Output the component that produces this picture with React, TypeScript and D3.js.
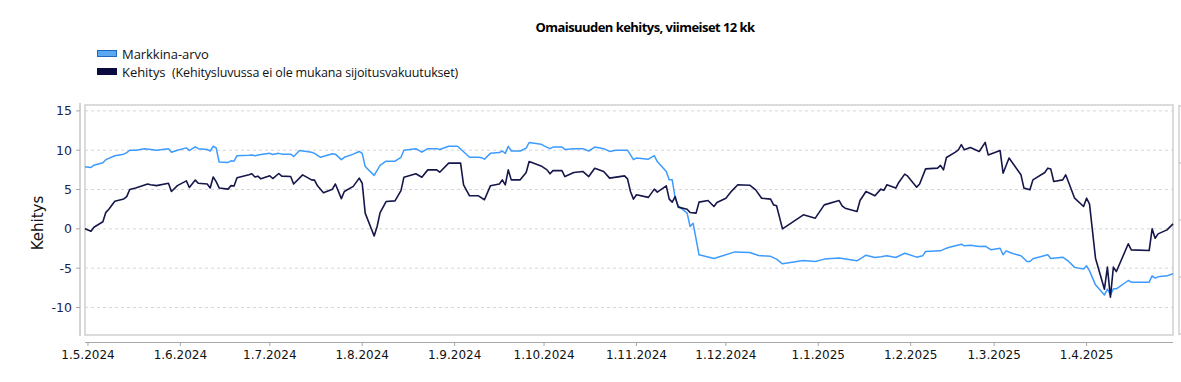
import React from "react";
import * as d3 from "d3";

const title = "Omaisuuden kehitys, viimeiset 12 kk";
const legendLabels = ["Markkina-arvo", "Kehitys"];
const legendNote = "(Kehitysluvussa ei ole mukana sijoitusvakuutukset)";
const yAxisLabel = "Kehitys";
const yTicks = [15, 10, 5, 0, -5, -10];
const xTickDates = ["2024-05-01","2024-06-01","2024-07-01","2024-08-01","2024-09-01","2024-10-01","2024-11-01","2024-12-01","2025-01-01","2025-02-01","2025-03-01","2025-04-01"];
const xDomain = ["2024-04-30", "2025-04-30"];
const yDomain = [-13.5, 15.75];

const markkinaArvo: [string, number][] = [
["2024-04-30",7.9],["2024-05-02",7.8],["2024-05-03",8.1],["2024-05-06",8.4],["2024-05-07",8.8],["2024-05-10",9.3],["2024-05-13",9.5],["2024-05-14",9.7],["2024-05-15",10.0],["2024-05-17",10.0],["2024-05-20",10.2],["2024-05-22",10.1],["2024-05-24",10.0],["2024-05-28",10.2],["2024-05-29",9.75],["2024-05-31",10.0],
["2024-06-03",10.3],["2024-06-04",9.96],["2024-06-05",10.2],["2024-06-06",10.43],["2024-06-07",10.2],["2024-06-10",10.1],["2024-06-11",9.9],["2024-06-12",10.5],["2024-06-13",10.3],["2024-06-14",8.5],["2024-06-17",8.45],["2024-06-18",8.65],["2024-06-19",8.6],["2024-06-20",9.3],["2024-06-24",9.37],["2024-06-25",9.4],["2024-06-26",9.3],["2024-06-28",9.45],
["2024-07-01",9.6],["2024-07-02",9.45],["2024-07-04",9.6],["2024-07-05",9.5],["2024-07-08",9.5],["2024-07-09",9.2],["2024-07-11",9.96],["2024-07-15",9.75],["2024-07-16",9.6],["2024-07-18",9.1],["2024-07-22",9.54],["2024-07-23",9.5],["2024-07-25",8.8],["2024-07-26",9.1],["2024-07-29",9.5],["2024-07-31",9.84],
["2024-08-01",9.6],["2024-08-02",7.93],["2024-08-05",6.8],["2024-08-07",8.06],["2024-08-09",8.6],["2024-08-12",8.6],["2024-08-14",9.1],["2024-08-15",10.0],["2024-08-19",10.2],["2024-08-21",9.75],["2024-08-23",10.2],["2024-08-26",10.2],["2024-08-27",10.1],["2024-08-30",10.5],
["2024-09-02",10.5],["2024-09-04",9.8],["2024-09-06",9.1],["2024-09-09",9.1],["2024-09-10",9.05],["2024-09-11",8.86],["2024-09-13",9.6],["2024-09-16",9.7],["2024-09-17",9.9],["2024-09-18",9.6],["2024-09-19",10.5],["2024-09-20",9.9],["2024-09-23",9.9],["2024-09-25",10.27],["2024-09-26",10.98],["2024-09-30",10.77],
["2024-10-01",10.56],["2024-10-03",10.2],["2024-10-04",10.4],["2024-10-07",10.4],["2024-10-08",10.1],["2024-10-11",10.2],["2024-10-14",10.2],["2024-10-16",9.9],["2024-10-18",10.4],["2024-10-21",10.2],["2024-10-23",9.85],["2024-10-25",10.0],["2024-10-29",10.0],["2024-10-31",8.8],
["2024-11-01",9.0],["2024-11-05",8.86],["2024-11-07",9.3],["2024-11-08",8.56],["2024-11-11",7.3],["2024-11-12",6.23],["2024-11-13",6.23],["2024-11-14",3.9],["2024-11-15",2.93],["2024-11-18",2.0],["2024-11-19",0.3],["2024-11-20",0.72],["2024-11-22",-3.3],["2024-11-27",-3.77],
["2024-12-04",-2.93],["2024-12-09",-3.0],["2024-12-12",-3.4],["2024-12-16",-3.5],["2024-12-18",-3.85],["2024-12-20",-4.45],["2024-12-27",-4.03],["2024-12-31",-4.15],
["2025-01-03",-3.85],["2025-01-08",-3.7],["2025-01-14",-4.07],["2025-01-17",-3.35],["2025-01-20",-3.65],["2025-01-22",-3.55],["2025-01-24",-3.43],["2025-01-27",-3.64],["2025-01-30",-3.1],
["2025-02-03",-3.6],["2025-02-05",-3.43],["2025-02-06",-2.88],["2025-02-11",-2.8],["2025-02-13",-2.46],["2025-02-14",-2.33],["2025-02-18",-1.95],["2025-02-19",-2.16],["2025-02-21",-2.08],["2025-02-24",-2.25],["2025-02-26",-2.2],["2025-02-28",-2.67],
["2025-03-03",-2.46],["2025-03-04",-3.3],["2025-03-05",-2.8],["2025-03-07",-3.1],["2025-03-10",-3.43],["2025-03-12",-4.15],["2025-03-13",-4.15],["2025-03-14",-3.8],["2025-03-19",-3.3],["2025-03-20",-3.77],["2025-03-24",-3.6],["2025-03-26",-4.15],["2025-03-28",-4.9],["2025-03-31",-5.1],
["2025-04-01",-4.7],["2025-04-02",-5.34],["2025-04-04",-7.12],["2025-04-07",-8.4],["2025-04-08",-7.67],["2025-04-09",-8.4],["2025-04-10",-7.63],["2025-04-11",-7.63],["2025-04-15",-6.57],["2025-04-16",-6.78],["2025-04-22",-6.78],["2025-04-23",-5.98],["2025-04-24",-6.27],["2025-04-25",-6.1],["2025-04-28",-5.98],["2025-04-30",-5.72],
];

const kehitys: [string, number][] = [
["2024-04-30",0.0],["2024-05-02",-0.3],["2024-05-03",0.2],["2024-05-06",0.9],["2024-05-07",2.1],["2024-05-08",2.5],["2024-05-10",3.5],["2024-05-13",3.8],["2024-05-14",4.1],["2024-05-15",5.0],["2024-05-17",5.2],["2024-05-21",5.7],["2024-05-22",5.6],["2024-05-24",5.5],["2024-05-28",5.8],["2024-05-29",4.75],["2024-05-31",5.5],
["2024-06-03",6.1],["2024-06-04",5.26],["2024-06-06",6.2],["2024-06-07",5.8],["2024-06-10",5.7],["2024-06-11",5.2],["2024-06-12",6.6],["2024-06-13",6.0],["2024-06-14",5.2],["2024-06-17",5.05],["2024-06-18",5.5],["2024-06-19",5.45],["2024-06-20",6.5],["2024-06-24",6.87],["2024-06-25",7.0],["2024-06-26",6.6],["2024-06-27",6.7],["2024-06-28",6.36],
["2024-07-01",6.74],["2024-07-02",6.4],["2024-07-04",7.04],["2024-07-05",6.7],["2024-07-08",6.65],["2024-07-09",5.7],["2024-07-12",6.87],["2024-07-15",6.23],["2024-07-16",6.2],["2024-07-17",5.47],["2024-07-19",4.6],["2024-07-22",5.05],["2024-07-23",5.7],["2024-07-25",3.85],["2024-07-26",4.75],["2024-07-29",5.4],["2024-07-31",6.45],
["2024-08-01",5.8],["2024-08-02",2.0],["2024-08-05",-0.9],["2024-08-06",0.3],["2024-08-07",2.07],["2024-08-09",3.47],["2024-08-12",3.56],["2024-08-14",4.87],["2024-08-15",6.57],["2024-08-19",7.0],["2024-08-21",6.57],["2024-08-23",7.5],["2024-08-26",7.5],["2024-08-27",7.2],["2024-08-30",8.36],
["2024-09-03",8.36],["2024-09-04",5.6],["2024-09-06",4.2],["2024-09-09",4.2],["2024-09-11",3.7],["2024-09-13",5.47],["2024-09-16",5.7],["2024-09-17",6.23],["2024-09-18",5.6],["2024-09-19",7.5],["2024-09-20",6.23],["2024-09-23",6.23],["2024-09-25",7.16],["2024-09-26",8.56],["2024-09-30",8.0],
["2024-10-02",7.5],["2024-10-03",7.0],["2024-10-04",7.4],["2024-10-07",7.4],["2024-10-08",6.65],["2024-10-11",7.16],["2024-10-14",7.3],["2024-10-16",6.65],["2024-10-18",7.7],["2024-10-21",7.3],["2024-10-23",6.45],["2024-10-28",6.74],["2024-10-29",6.36],["2024-10-30",4.75],["2024-10-31",3.78],
["2024-11-01",4.33],["2024-11-05",4.0],["2024-11-07",5.05],["2024-11-08",4.67],["2024-11-11",5.47],["2024-11-12",3.78],["2024-11-13",3.4],["2024-11-14",4.1],["2024-11-15",2.76],["2024-11-18",2.5],["2024-11-19",2.07],["2024-11-21",2.0],["2024-11-22",3.4],["2024-11-25",3.6],["2024-11-27",2.84],["2024-11-28",3.35],
["2024-12-01",3.9],["2024-12-03",4.83],["2024-12-05",5.6],["2024-12-09",5.55],["2024-12-11",4.96],["2024-12-13",3.9],["2024-12-16",3.78],["2024-12-17",3.05],["2024-12-18",2.93],["2024-12-20",0.0],["2024-12-27",1.78],["2024-12-31",1.36],
["2025-01-03",3.05],["2025-01-08",3.6],["2025-01-09",2.93],["2025-01-10",2.63],["2025-01-14",2.2],["2025-01-15",3.6],["2025-01-17",4.75],["2025-01-20",4.2],["2025-01-22",5.05],["2025-01-23",4.9],["2025-01-24",5.6],["2025-01-27",5.18],["2025-01-28",5.9],["2025-01-30",6.96],["2025-01-31",6.7],
["2025-02-03",5.3],["2025-02-04",5.7],["2025-02-06",7.63],["2025-02-10",7.72],["2025-02-11",8.06],["2025-02-12",7.5],["2025-02-13",9.07],["2025-02-16",9.75],["2025-02-17",10.05],["2025-02-18",10.7],["2025-02-19",10.05],["2025-02-21",10.35],["2025-02-24",9.84],["2025-02-26",11.0],["2025-02-27",9.4],
["2025-03-03",9.96],["2025-03-04",7.08],["2025-03-06",9.0],["2025-03-10",6.87],["2025-03-11",5.18],["2025-03-13",4.96],["2025-03-14",6.23],["2025-03-18",7.16],["2025-03-19",7.72],["2025-03-20",7.6],["2025-03-21",6.02],["2025-03-24",6.23],["2025-03-25",6.87],["2025-03-26",5.9],["2025-03-28",3.9],["2025-03-31",2.84],
["2025-04-01",3.9],["2025-04-02",3.14],["2025-04-04",-3.73],["2025-04-07",-7.67],["2025-04-08",-4.87],["2025-04-09",-8.7],["2025-04-10",-4.87],["2025-04-11",-5.43],["2025-04-15",-1.9],["2025-04-16",-2.67],["2025-04-22",-2.76],["2025-04-23",0.0],["2025-04-24",-1.19],["2025-04-25",-0.64],["2025-04-28",-0.13],["2025-04-30",0.64],
];

const W = 1181, H = 382;
const plot = { left: 85, right: 1173, top: 105, bottom: 335 };
const BLUE = "#3d9bff";
const NAVY = "#15164a";
const TICK_TEXT = "#1c2150";

const parse = d3.timeParse("%Y-%m-%d");
const fmt = (d: Date) => `${d.getDate()}.${d.getMonth() + 1}.${d.getFullYear()}`;

export default function App() {
  const x = d3.scaleTime().domain(xDomain.map((s) => parse(s) as Date)).range([plot.left, plot.right]);
  const y = d3.scaleLinear().domain(yDomain).range([plot.bottom, plot.top]);
  const line = d3.line<[string, number]>()
    .x((d) => x(parse(d[0]) as Date))
    .y((d) => y(d[1]));
  const rightScale = d3.scaleLinear().domain([0, 4]).range([plot.bottom - 1, plot.top + 1]);
  const axisFont = "DejaVu Sans, sans-serif";
  const labelFont = "'Open Sans', 'Noto Sans', sans-serif";

  return (
    <svg width={W} height={H} style={{ position: "absolute", left: 0, top: 0, background: "#fff" }}>
      <text x={645} y={32} textAnchor="middle" fontFamily={labelFont} fontWeight={700} fontSize={13} letterSpacing={-0.55} fill="#000">{title}</text>

      {/* legend */}
      <rect x={97.5} y={50.5} width={19} height={6} fill="#5aa8f0" stroke="#1f66c2" strokeWidth={1} />
      <text x={122} y={59} fontFamily={labelFont} fontSize={13} fill="#111" letterSpacing={-0.05}>{legendLabels[0]}</text>
      <rect x={97} y={68} width={20} height={7} fill="#0b0b3f" />
      <text x={122} y={77} fontFamily={labelFont} fontSize={13} fill="#111" letterSpacing={-0.05}>{legendLabels[1]}</text>
      <text x={172} y={77} fontFamily={labelFont} fontSize={12.5} fill="#111" letterSpacing={-0.15}>{legendNote}</text>

      {/* grid */}
      {yTicks.map((t) => (
        <line key={"g" + t} x1={plot.left} x2={plot.right} y1={y(t)} y2={y(t)} stroke="#d6d6d6" strokeDasharray="3,3" strokeWidth={1} />
      ))}

      {/* plot frame */}
      <rect x={plot.left} y={plot.top} width={plot.right - plot.left} height={plot.bottom - plot.top} fill="none" stroke="#cfcfcf" strokeWidth={1.5} />

      {/* y axis */}
      <line x1={80} x2={80} y1={plot.top - 2} y2={plot.bottom + 1} stroke="#a8a8a8" strokeWidth={1} />
      {yTicks.map((t) => (
        <g key={"y" + t}>
          <line x1={76} x2={80} y1={y(t)} y2={y(t)} stroke="#a8a8a8" />
          <text x={72} y={y(t) + 4.5} textAnchor="end" fontFamily={axisFont} fontSize={12.5} fill={TICK_TEXT}>{t}</text>
        </g>
      ))}
      <text transform={`translate(43,${(plot.top + plot.bottom) / 2 + 3}) rotate(-90)`} textAnchor="middle" fontFamily={axisFont} fontSize={15} fill="#111">{yAxisLabel}</text>

      {/* x axis */}
      <line x1={plot.left} x2={plot.right} y1={342.5} y2={342.5} stroke="#a8a8a8" strokeWidth={1} />
      {xTickDates.map((s) => {
        const d = parse(s) as Date;
        return (
          <g key={s}>
            <line x1={x(d)} x2={x(d)} y1={342.5} y2={346} stroke="#a8a8a8" />
            <text x={x(d)} y={359} textAnchor="middle" fontFamily={axisFont} fontSize={12} fill="#111">{fmt(d)}</text>
          </g>
        );
      })}

      {/* right secondary axis edge */}
      <line x1={1179} x2={1179} y1={plot.top} y2={plot.bottom} stroke="#b8b8b8" strokeWidth={1} />
      {rightScale.ticks(4).map((t) => (
        <line key={"r" + t} x1={1179} x2={1182} y1={rightScale(t)} y2={rightScale(t)} stroke="#b8b8b8" />
      ))}

      {/* series */}
      <path d={line(markkinaArvo) || ""} fill="none" stroke={BLUE} strokeWidth={1.5} strokeLinejoin="round" />
      <path d={line(kehitys) || ""} fill="none" stroke={NAVY} strokeWidth={1.6} strokeLinejoin="round" />
    </svg>
  );
}
